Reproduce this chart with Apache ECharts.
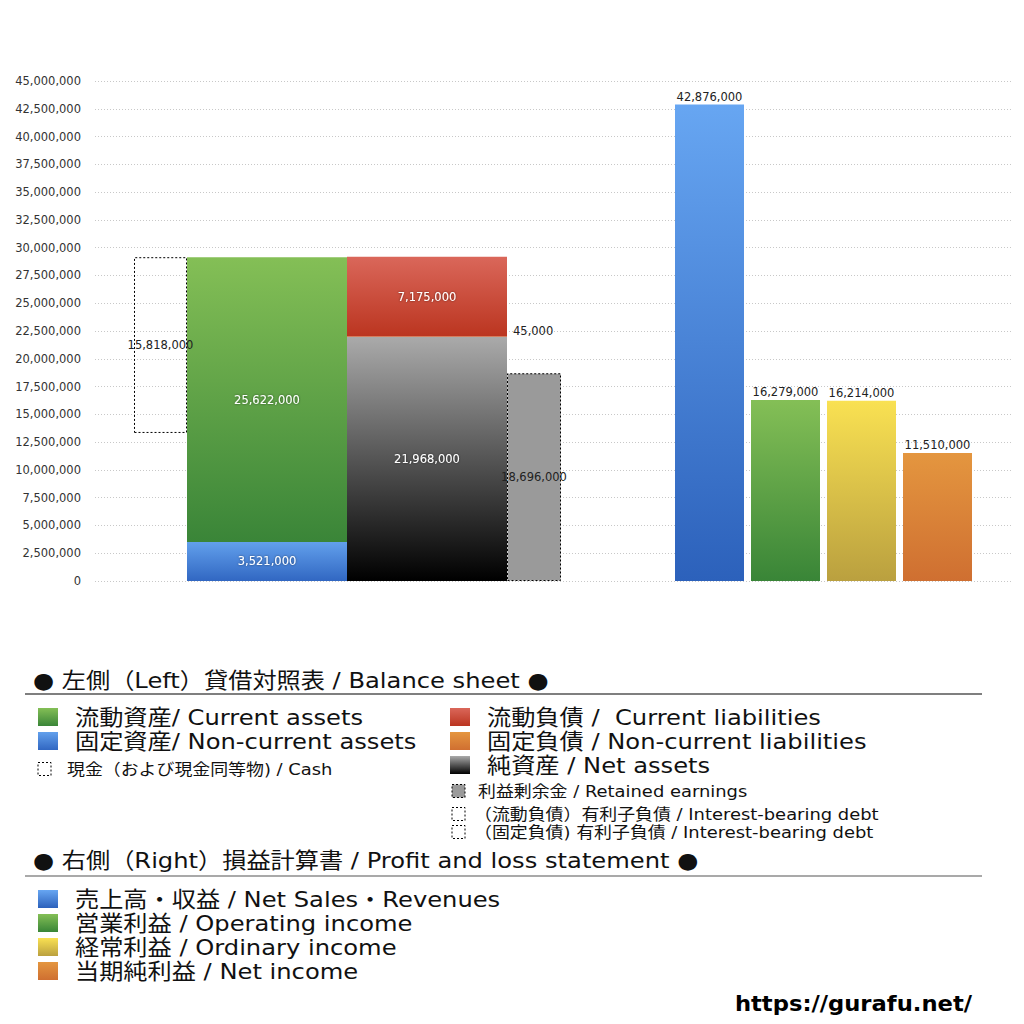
<!doctype html>
<html>
<head>
    <title>Balance sheet / Profit and loss</title>
    <script src="https://cdn.jsdelivr.net/npm/echarts@6/dist/echarts.min.js"></script>
</head>
<style>
    html, body {
        margin: 0;
        padding: 0;
        background: #fff;
    }
    #chart {
        width: 1024px;
        height: 1024px;
    }
</style>
<body>
<div id="chart"></div>
<script>
  // balance sheet (left)
  var cash = 15818000;
  var currentAssets = 25622000;
  var nonCurrentAssets = 3521000;
  var currentLiabilities = 7175000;
  var nonCurrentLiabilities = 45000;
  var netAssets = 21968000;
  var retainedEarnings = 18696000;

  // profit and loss (right)
  var plNames = ['売上高・収益', '営業利益', '経常利益', '当期純利益'];
  var plValues = [42876000, 16279000, 16214000, 11510000];

  var yTicks = { min: 0, max: 45000000, interval: 2500000 };

  var FONT = '"DejaVu Sans", "Noto Sans CJK JP", sans-serif';

  function grad(top, bottom) {
    return new echarts.graphic.LinearGradient(0, 0, 0, 1, [
      { offset: 0, color: top },
      { offset: 1, color: bottom }
    ]);
  }
  function fmt(v) {
    return Number(v).toLocaleString('en-US');
  }

  var C = {
    green: ['#84bf56', '#3a8538'],
    blue: ['#62a0ec', '#3167c2'],
    red: ['#da675a', '#bb3520'],
    orange: ['#e5963f', '#d06f31'],
    net: ['#aaaaaa', '#000000'],
    sales: ['#67a6f2', '#2c61bb'],
    op: ['#84bf56', '#398537'],
    ord: ['#f9e152', '#baa03f'],
    ni: ['#e4963f', '#cf6f31']
  };

  var inLabel = {
    show: true,
    position: 'inside',
    color: '#fff',
    fontSize: 11.5,
    fontFamily: FONT,
    textShadowColor: 'rgba(0,0,0,0.55)',
    textShadowBlur: 2,
    formatter: function (p) { return fmt(p.value); }
  };
  var darkLabel = function (pos) {
    return {
      show: true,
      position: pos,
      color: '#222',
      fontSize: 11.5,
      fontFamily: FONT,
      formatter: function (p) { return fmt(p.value); }
    };
  };
  var dashed = { borderColor: '#000', borderWidth: 1, borderType: [2, 2] };

  function spacer(w) {
    return { type: 'bar', barWidth: w, data: [null], silent: true, itemStyle: { color: 'transparent' } };
  }

  var totalAssets = currentAssets + nonCurrentAssets;

  var series = [
    // cash box hangs from the top of assets
    { type: 'bar', stack: 'cash', barWidth: 53, data: [totalAssets - cash], silent: true,
      itemStyle: { color: 'transparent' } },
    { type: 'bar', stack: 'cash', data: [cash],
      itemStyle: Object.assign({ color: 'rgba(255,255,255,0)' }, dashed),
      label: darkLabel('inside') },
    // assets
    { type: 'bar', stack: 'assets', barWidth: 160, data: [nonCurrentAssets],
      itemStyle: { color: grad(C.blue[0], C.blue[1]) }, label: inLabel },
    { type: 'bar', stack: 'assets', data: [currentAssets],
      itemStyle: { color: grad(C.green[0], C.green[1]) }, label: inLabel },
    // liabilities + net assets
    { type: 'bar', stack: 'liab', barWidth: 160, data: [netAssets],
      itemStyle: { color: grad(C.net[0], C.net[1]) }, label: inLabel },
    { type: 'bar', stack: 'liab', data: [nonCurrentLiabilities],
      itemStyle: { color: grad(C.orange[0], C.orange[1]) },
      label: Object.assign(darkLabel('right'), { distance: 6, offset: [0, -6] }) },
    { type: 'bar', stack: 'liab', data: [currentLiabilities],
      itemStyle: { color: grad(C.red[0], C.red[1]) }, label: inLabel },
    // retained earnings
    { type: 'bar', barWidth: 54, data: [retainedEarnings],
      itemStyle: Object.assign({ color: '#9a9a9a' }, dashed), label: darkLabel('inside') },
    spacer(114)
  ];

  var plColors = [C.sales, C.op, C.ord, C.ni];
  plValues.forEach(function (v, i) {
    if (i > 0) series.push(spacer(7));
    series.push({
      type: 'bar', name: plNames[i], barWidth: 69, data: [v],
      itemStyle: { color: grad(plColors[i][0], plColors[i][1]) },
      label: Object.assign(darkLabel('top'), { distance: 2 })
    });
  });

  // legend drawn as graphic elements
  var g = [];
  function txt(x, y, s, size, extra, sx) {
    g.push({
      type: 'text',
      x: x, y: y,
      scaleX: sx || (size > 18 ? 1.1 : 1.12),
      style: Object.assign({
        text: s, x: 0, y: 0, fill: '#111',
        font: size + 'px ' + FONT,
        lineHeight: size,
        textAlign: 'left', textVerticalAlign: 'middle'
      }, extra || {})
    });
  }
  function swatch(x, y, c) {
    g.push({ type: 'rect', shape: { x: x, y: y - 9, width: 20, height: 18 },
      style: { fill: grad(c[0], c[1]) } });
  }
  function box(x, y, fill) {
    g.push({ type: 'rect', shape: { x: x, y: y - 6.5, width: 13, height: 13 },
      style: { fill: fill, stroke: '#000', lineWidth: 1, lineDash: [2, 2] } });
  }
  function rule(y, color) {
    g.push({ type: 'line', shape: { x1: 25, y1: y, x2: 982, y2: y },
      style: { stroke: color, lineWidth: 1.2 } });
  }

  txt(33, 680, '● 左側（Left）貸借対照表 / Balance sheet ●', 22);
  rule(694, '#000');
  swatch(38, 717, C.green); txt(75, 717, '流動資産/ Current assets', 22);
  swatch(38, 741, C.blue); txt(75, 741, '固定資産/ Non-current assets', 22);
  box(38, 769, '#fff'); txt(67, 769, '現金（および現金同等物) / Cash', 16);
  swatch(450, 717, C.red); txt(487, 717, '流動負債 /  Current liabilities', 22);
  swatch(450, 741, C.orange); txt(487, 741, '固定負債 / Non-current liabilities', 22);
  swatch(450, 765, C.net); txt(487, 765, '純資産 / Net assets', 22);
  box(452, 791, '#9a9a9a'); txt(478, 791, '利益剰余金 / Retained earnings', 16);
  box(452, 814, '#fff'); txt(474, 814, '（流動負債）有利子負債 / Interest-bearing debt', 16);
  box(452, 832, '#fff'); txt(474, 832, '（固定負債) 有利子負債 / Interest-bearing debt', 16);

  txt(33, 860, '● 右側（Right）損益計算書 / Profit and loss statement ●', 22);
  rule(876, '#555');
  var plLegend = [
    '売上高・収益 / Net Sales・Revenues',
    '営業利益 / Operating income',
    '経常利益 / Ordinary income',
    '当期純利益 / Net income'
  ];
  plLegend.forEach(function (s, i) {
    swatch(38, 899 + i * 24, plColors[i]);
    txt(75, 899 + i * 24, s, 22);
  });
  txt(972, 1003, 'https://gurafu.net/', 22,
    { textAlign: 'right', fill: '#000', font: 'bold 22px "DejaVu Sans", sans-serif' }, 1.03);

  var myChart = echarts.init(document.getElementById('chart'), null, { renderer: 'svg' });
  var option = {
    animation: false,
    backgroundColor: '#fff',
    grid: { left: 95, right: 13, top: 81, bottom: 443 },
    xAxis: {
      type: 'category',
      data: ['BS / PL'],
      axisLine: { show: false },
      axisTick: { show: false },
      axisLabel: { show: false },
      splitLine: { show: false }
    },
    yAxis: {
      type: 'value',
      min: yTicks.min,
      max: yTicks.max,
      interval: yTicks.interval,
      axisLine: { show: false },
      axisTick: { show: false },
      axisLabel: {
        color: '#333', fontSize: 11.5, fontFamily: FONT, margin: 14,
        formatter: function (v) { return fmt(v); }
      },
      splitLine: { lineStyle: { color: '#c8c8c8', type: [1, 2] } }
    },
    barGap: '0%',
    series: series.map(function (s) { s.barGap = '0%'; return s; }),
    graphic: g
  };
  myChart.setOption(option);
</script>
</body>
</html>
